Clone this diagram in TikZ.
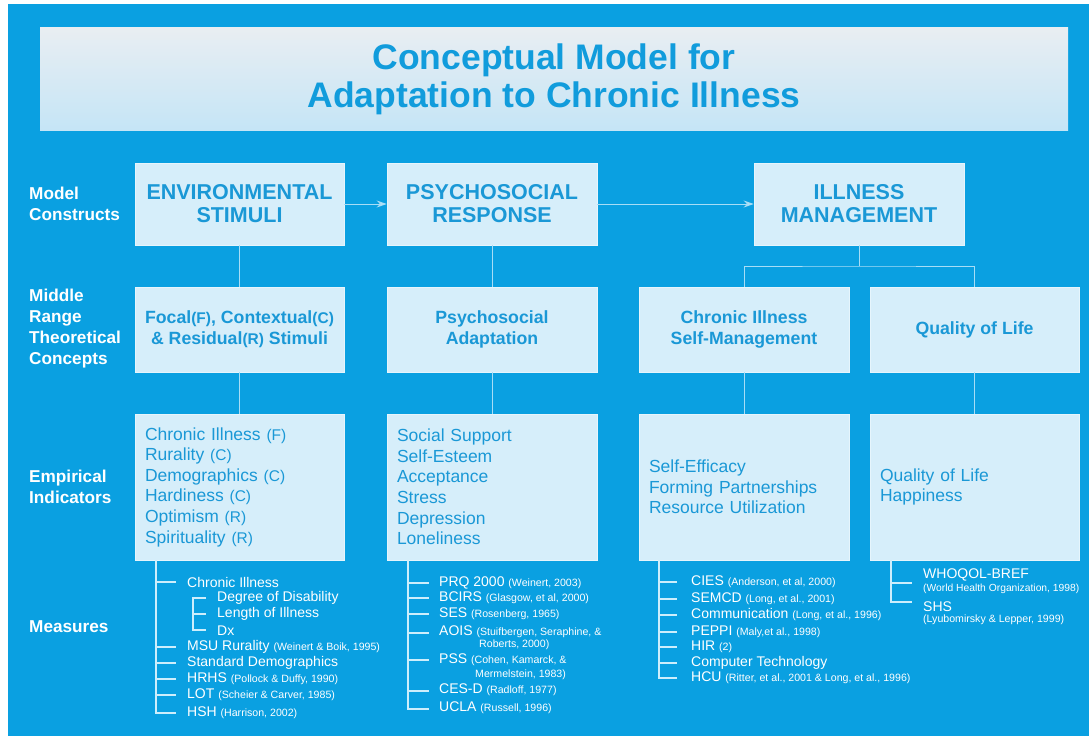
\documentclass[tikz,border=0pt]{standalone}
\usepackage{fontspec}
\setmainfont{Liberation Sans}
\usetikzlibrary{arrows.meta}
\definecolor{bg}{HTML}{0AA0E1}
\definecolor{boxfill}{HTML}{D6EEFA}
\definecolor{boxtext}{HTML}{1A98D6}
\definecolor{titleblue}{HTML}{119CDC}
\definecolor{conn}{HTML}{A8DDF6}
\definecolor{treeline}{HTML}{CDEEFC}
\definecolor{titletop}{HTML}{E9EEF2}
\definecolor{titlebot}{HTML}{C5E5F6}
\newcommand{\cit}[1]{{\fontsize{10.6}{12}\selectfont #1}}
\newcommand{\smp}[1]{{\fontsize{15.5}{17}\selectfont #1}}
\begin{document}
\begin{tikzpicture}[x=1pt,y=-1pt,
  box/.style={rectangle, fill=boxfill, draw=boxfill!60!white, line width=0.6pt, minimum width=209pt, inner sep=0pt},
  hdr/.style={box, minimum height=82pt, font=\fontsize{21.5}{23}\selectfont\bfseries, text=boxtext, align=center},
  mid/.style={box, minimum height=85pt, font=\fontsize{17.7}{21}\selectfont\bfseries, text=boxtext, align=center},
  emp/.style={box, minimum height=146pt, font=\fontsize{17.5}{20.6}\selectfont, text=boxtext, align=left, text width=189pt, inner xsep=10pt},
  lab/.style={anchor=west, font=\fontsize{17.2}{20.5}\selectfont\bfseries, text=white, align=left, inner sep=0pt},
  meas/.style={anchor=west, font=\fontsize{14}{15}\selectfont, text=white, inner sep=0pt},
  sub/.style={anchor=west, font=\fontsize{10.6}{12}\selectfont, text=white, inner sep=0pt},
  link/.style={draw=conn, line width=1pt},
  arr/.style={link, -{Stealth[length=10pt,width=7pt,fill=conn!80!white]}},
  tree/.style={draw=treeline, line width=1.1pt}
]
\useasboundingbox (0,0) rectangle (1089,736);
\fill[white] (0,0) rectangle (1089,736);
\fill[bg] (8,4) rectangle (1089,736);

% title
\node[rectangle, minimum width=1028pt, minimum height=103pt, top color=titletop, bottom color=titlebot, inner sep=0pt] (tbox) at (554,78.5) {};
\node[font=\fontsize{35.5}{38}\selectfont\bfseries, text=titleblue, align=center] (ttl) at (554,79) {Conceptual Model for\\Adaptation to Chronic Illness};

% left labels
\node[lab] (lmc) at (29,204) {Model\\Constructs};
\node[lab, font=\fontsize{17.2}{21}\selectfont\bfseries] (lmr) at (29,328.5) {Middle\\Range\\Theoretical\\Concepts};
\node[lab] (lei) at (29,487) {Empirical\\Indicators};
\node[lab] (lms) at (29,627) {Measures};

% row 1
\node[hdr] (env) at (239.5,204) {ENVIRONMENTAL\\STIMULI};
\node[hdr, minimum width=210pt] (psy) at (492,204) {PSYCHOSOCIAL\\RESPONSE};
\node[hdr, minimum width=210pt] (ill) at (859,204) {ILLNESS\\MANAGEMENT};

% row 2
\node[mid] (foc) at (239.5,329.5) {Focal\smp{(F)}, Contextual\smp{(C)}\\\& Residual\smp{(R)} Stimuli};
\node[mid, minimum width=210pt] (psa) at (492,329.5) {Psychosocial\\Adaptation};
\node[mid, minimum width=210pt] (csm) at (744,329.5) {Chronic Illness\\Self-Management};
\node[mid] (qol) at (974.5,329.5) {Quality of Life};

% row 3
\node[emp] (eenv) at (239.5,487) {Chronic Illness \smp{(F)}\\Rurality \smp{(C)}\\Demographics \smp{(C)}\\Hardiness \smp{(C)}\\Optimism \smp{(R)}\\Spirituality \smp{(R)}};
\node[emp, minimum width=210pt, text width=190pt] (epsy) at (492,487) {Social Support\\Self-Esteem\\Acceptance\\Stress\\Depression\\Loneliness};
\node[emp, minimum width=210pt, text width=190pt] (ecsm) at (744,487) {Self-Efficacy\\Forming Partnerships\\Resource Utilization};
\node[emp] (eqol) at (974.5,487) {Quality of Life\\Happiness};

% connectors
\draw[arr] (env.east) -- (psy.west);
\draw[arr] (psy.east) -- (ill.west);
\draw[link] (env.south) -- (foc.north);
\draw[link] (psy.south) -- (psa.north);
\draw[link] (foc.south) -- (eenv.north);
\draw[link] (psa.south) -- (epsy.north);
\draw[link] (csm.south) -- (ecsm.north);
\draw[link] (qol.south) -- (eqol.north);
\coordinate (split) at (859,266);
\draw[link] (ill.south) -- (split);
\draw[link] (csm.north) |- (split) -| (qol.north);

% measures: environmental
\node[meas] (m1) at (187,582) {Chronic Illness};
\node[meas] (s1) at (217,598) {Degree of Disability};
\node[meas] (s2) at (217,614) {Length of Illness};
\node[meas] (s3) at (217,631) {Dx};
\node[meas] (m2) at (187,647) {MSU Rurality \cit{(Weinert \& Boik, 1995)}};
\node[meas] (m3) at (187,663) {Standard Demographics};
\node[meas] (m4) at (187,679) {HRHS \cit{(Pollock \& Duffy, 1990)}};
\node[meas] (m5) at (187,695) {LOT \cit{(Scheier \& Carver, 1985)}};
\node[meas] (m6) at (187,713) {HSH \cit{(Harrison, 2002)}};
\draw[tree] (eenv.south -| 156,0) |- (176,713);
\foreach \yy in {582,647,663,679,695} \draw[tree] (156,\yy) -- (176,\yy);
\draw[tree] (206,598) -- (193,598) -- (193,630) -- (206,630);
\draw[tree] (193,614) -- (206,614);

% measures: psychosocial
\node[meas] (p1) at (439,583) {PRQ 2000 \cit{(Weinert, 2003)}};
\node[meas] (p2) at (439,598) {BCIRS \cit{(Glasgow, et al, 2000)}};
\node[meas] (p3) at (439,614) {SES \cit{(Rosenberg, 1965)}};
\node[meas] (p4) at (439,632) {AOIS \cit{(Stuifbergen, Seraphine, \&}};
\node[sub] (p4b) at (479,645) {Roberts, 2000)};
\node[meas] (p5) at (439,660) {PSS \cit{(Cohen, Kamarck, \&}};
\node[sub] (p5b) at (475,675) {Mermelstein, 1983)};
\node[meas] (p6) at (439,690) {CES-D \cit{(Radloff, 1977)}};
\node[meas] (p7) at (439,708) {UCLA \cit{(Russell, 1996)}};
\draw[tree] (epsy.south -| 408,0) |- (429,709);
\foreach \yy in {583,598,614,633,660,691} \draw[tree] (408,\yy) -- (429,\yy);

% measures: self-management
\node[meas] (c1) at (691,582) {CIES \cit{(Anderson, et al, 2000)}};
\node[meas] (c2) at (691,599) {SEMCD \cit{(Long, et al., 2001)}};
\node[meas] (c3) at (691,615) {Communication \cit{(Long, et al., 1996)}};
\node[meas] (c4) at (691,632) {PEPPI \cit{(Maly,et al., 1998)}};
\node[meas] (c5) at (691,647) {HIR \cit{(2)}};
\node[meas] (c6) at (691,663) {Computer Technology};
\node[meas] (c7) at (691,678) {HCU \cit{(Ritter, et al., 2001 \& Long, et al., 1996)}};
\draw[tree] (ecsm.south -| 659,0) |- (677,678);
\foreach \yy in {582,599,615,632,647,663} \draw[tree] (659,\yy) -- (677,\yy);

% measures: quality of life
\node[meas] (q1) at (923,575) {WHOQOL-BREF};
\node[sub, font=\fontsize{10.3}{11}\selectfont] (q1b) at (923,589) {(World Health Organization, 1998)};
\node[meas] (q2) at (923,607) {SHS};
\node[sub] (q2b) at (923,620) {(Lyubomirsky \& Lepper, 1999)};
\draw[tree] (eqol.south -| 891,0) |- (912,602);
\draw[tree] (891,583) -- (912,583);
\end{tikzpicture}
\end{document}
